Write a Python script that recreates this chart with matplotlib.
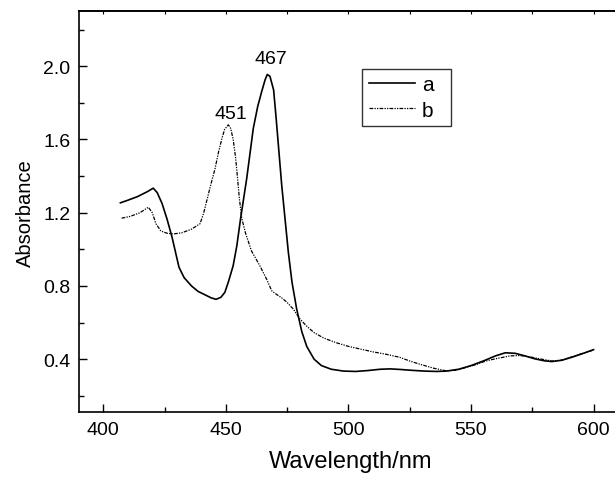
import matplotlib
matplotlib.use("Agg")
import matplotlib.pyplot as plt
from matplotlib.ticker import MultipleLocator, FixedLocator

plt.rcParams['font.family'] = ['Liberation Sans', 'DejaVu Sans']

# Curve a (solid)
wl_a = [407, 410, 414, 418, 420.4, 422, 424, 426, 428, 430.9, 433, 436, 438.7, 441,
        444, 446, 448, 449.6, 451, 453, 454.5, 456, 458.5, 461.2, 463, 464.6, 466,
        466.9, 468, 469.5, 470.5, 472.8, 475.5, 477, 478.9, 481, 483, 486, 489, 493,
        498, 503, 508, 513, 517, 521, 526, 531, 536, 540, 545, 550, 555, 560, 564,
        568, 572, 576, 580, 583, 587, 591, 595, 600]
abs_a = [1.254, 1.268, 1.288, 1.315, 1.334, 1.31, 1.25, 1.166, 1.07, 0.902, 0.845,
         0.80, 0.77, 0.755, 0.735, 0.727, 0.738, 0.765, 0.82, 0.911, 1.02, 1.166,
         1.385, 1.66, 1.78, 1.86, 1.925, 1.955, 1.945, 1.87, 1.72, 1.35, 0.984, 0.82,
         0.674, 0.55, 0.47, 0.40, 0.365, 0.345, 0.335, 0.333, 0.338, 0.345, 0.347,
         0.344, 0.339, 0.335, 0.333, 0.335, 0.345, 0.365, 0.39, 0.418, 0.435, 0.432,
         0.418, 0.402, 0.391, 0.387, 0.394, 0.41, 0.428, 0.452]

# Curve b (dash-dot-dot)
wl_b = [407.5, 411, 415, 418.4, 420, 421.5, 423.5, 426, 428.5, 432, 436, 439.5, 441,
        442.5, 444, 445.6, 447, 448.3, 449.5, 451, 452, 453, 454, 454.7, 455.5, 456.5,
        458, 460.5, 463.9, 466.6, 468.7, 470, 472.8, 475, 477.5, 480.2, 483, 486, 490,
        495, 500, 505, 510, 515, 521, 525, 529, 535, 540, 544, 548, 552, 556, 561,
        566, 570, 574, 578, 583, 587, 591, 595, 600]
abs_b = [1.17, 1.18, 1.20, 1.23, 1.20, 1.14, 1.10, 1.088, 1.084, 1.09, 1.11, 1.14,
         1.20, 1.28, 1.36, 1.44, 1.53, 1.60, 1.655, 1.68, 1.66, 1.60, 1.50, 1.40,
         1.28, 1.17, 1.09, 0.99, 0.91, 0.838, 0.774, 0.76, 0.735, 0.71, 0.674, 0.62,
         0.58, 0.545, 0.515, 0.49, 0.47, 0.455, 0.44, 0.428, 0.41, 0.39, 0.373, 0.35,
         0.336, 0.34, 0.355, 0.37, 0.39, 0.405, 0.418, 0.42, 0.413, 0.402, 0.39,
         0.395, 0.412, 0.43, 0.45]

series_labels = ['a', 'b']
peak_labels = ['467', '451']
peak_pos = [(468.4, 2.015), (452.0, 1.72)]

x_ticks = [400, 450, 500, 550, 600]
y_ticks = [0.4, 0.8, 1.2, 1.6, 2.0]
y_minor = [0.2, 0.6, 1.0, 1.4, 1.8, 2.2]

fig = plt.figure(figsize=(6.15, 4.81), dpi=100)
ax = fig.add_axes([0.128, 0.1408, 0.885, 0.8336])

ax.plot(wl_a, abs_a, color='black', lw=1.2, label=series_labels[0])
ax.plot(wl_b, abs_b, color='black', lw=0.9, linestyle=(0, (3, 1, 1, 1, 1, 1)),
        label=series_labels[1])

for txt, (px, py) in zip(peak_labels, peak_pos):
    ax.text(px, py, txt, ha='center', va='baseline', fontsize=14)

ax.set_xlim(390, 612)
ax.set_ylim(0.11, 2.30)
ax.set_xticks(x_ticks)
ax.set_yticks(y_ticks)
ax.set_yticklabels([f"{v:.1f}" for v in y_ticks])
ax.xaxis.set_minor_locator(MultipleLocator(25))
ax.yaxis.set_minor_locator(FixedLocator(y_minor))

ax.tick_params(which='both', direction='in', labelsize=14, width=1.0, pad=6)
ax.tick_params(which='major', length=6)
ax.tick_params(which='minor', length=3.5)

sec = ax.secondary_xaxis('top')
sec.set_xticks(x_ticks)
sec.xaxis.set_minor_locator(MultipleLocator(25))
sec.tick_params(which='both', direction='in', length=2, labeltop=False, width=0.8)
sec.spines['top'].set_linewidth(1.2)

for s in ax.spines.values():
    s.set_linewidth(1.2)

ax.set_xlabel('Wavelength/nm', fontsize=17, labelpad=9)
ax.set_ylabel('Absorbance', fontsize=14.5, labelpad=6)

leg = ax.legend(loc='upper left', bbox_to_anchor=(0.521, 0.712, 0.163, 0.144),
                mode='expand', borderaxespad=0, fontsize=15, frameon=True,
                fancybox=False, handlelength=2.25, handletextpad=0.3,
                borderpad=0.3, labelspacing=0.3)
leg.get_frame().set_edgecolor('black')
leg.get_frame().set_linewidth(1.0)

fig.savefig('out.png', dpi=100)
